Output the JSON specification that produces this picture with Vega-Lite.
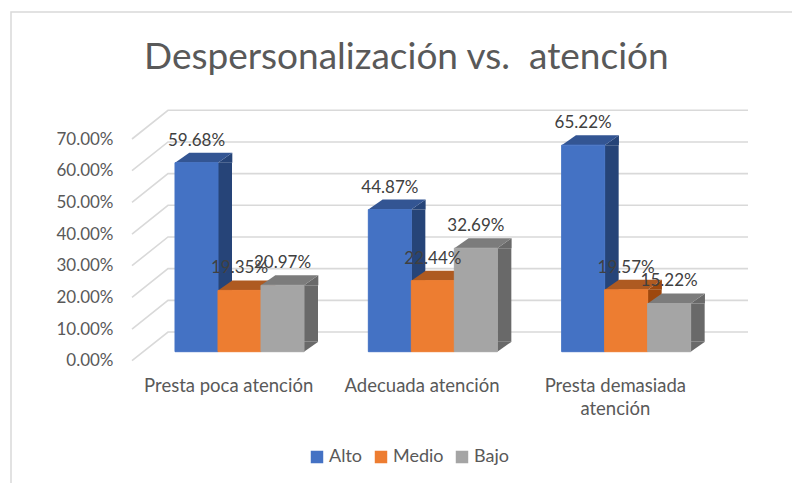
{
  "$schema": "https://vega.github.io/schema/vega-lite/v6.json",
  "autosize": "none",
  "padding": {"left": 11, "top": 12, "right": 0, "bottom": 0},
  "width": 782,
  "height": 472,
  "background": "white",
  "title": {"text": "Despersonalización vs.\u00a0 atención", "font": "Lato", "fontSize": 37, "fontWeight": "normal", "color": "#595959", "anchor": "start", "frame": "group", "offset": -65, "dx": 133},
  "config": {"view": {"stroke": "#d9d9d9", "strokeWidth": 1.5}},
  "datasets": {
    "bars": [
      {"categoria": "Presta poca atención", "nivel": "Alto", "valor": 0.5968},
      {"categoria": "Presta poca atención", "nivel": "Medio", "valor": 0.1935},
      {"categoria": "Presta poca atención", "nivel": "Bajo", "valor": 0.2097},
      {"categoria": "Adecuada atención", "nivel": "Alto", "valor": 0.4487},
      {"categoria": "Adecuada atención", "nivel": "Medio", "valor": 0.2244},
      {"categoria": "Adecuada atención", "nivel": "Bajo", "valor": 0.3269},
      {"categoria": "Presta demasiada atención", "nivel": "Alto", "valor": 0.6522},
      {"categoria": "Presta demasiada atención", "nivel": "Medio", "valor": 0.1957},
      {"categoria": "Presta demasiada atención", "nivel": "Bajo", "valor": 0.1522}
    ],
    "ticks": [{"t": 0}, {"t": 0.1}, {"t": 0.2}, {"t": 0.3}, {"t": 0.4}, {"t": 0.5}, {"t": 0.6}, {"t": 0.7}]
  },
  "data": {"name": "bars"},
  "layer": [
    {
      "data": {"name": "ticks"},
      "mark": {"type": "point", "shape": "M0,0 L36,-28.7 L616,-28.7", "size": 4, "filled": false, "fill": null, "stroke": "#d9d9d9", "strokeWidth": 1.6, "opacity": 1},
      "encoding": {
        "x": {"datum": "Presta poca atención", "bandPosition": 0, "type": "nominal", "scale": {"domain": ["Presta poca atención", "Adecuada atención", "Presta demasiada atención"], "range": [121, 701], "paddingInner": 0, "paddingOuter": 0}, "axis": {"title": null, "labelAngle": 0, "domain": false, "ticks": false, "grid": false, "offset": -123, "labelPadding": 15, "labelFont": "Lato", "labelFontSize": 18.5, "labelColor": "#595959", "labelLimit": 220, "labelLineHeight": 23, "labelExpr": "datum.label == 'Presta demasiada atención' ? ['Presta demasiada', 'atención'] : datum.label"}},
        "y": {"field": "t", "type": "quantitative", "scale": {"domain": [0, 0.7], "range": [348.7, 127]}, "axis": {"title": null, "values": [0, 0.1, 0.2, 0.3, 0.4, 0.5, 0.6, 0.7], "format": ".2%", "domain": false, "ticks": false, "grid": false, "offset": -121, "labelPadding": 19, "labelFont": "Lato", "labelFontSize": 17, "labelColor": "#595959"}}
      }
    },
    {
      "mark": {"type": "bar", "width": 14, "yOffset": -9, "y2Offset": -19},
      "encoding": {
        "x": {"field": "categoria", "type": "nominal", "sort": null},
        "xOffset": {"field": "nivel", "sort": ["Alto", "Medio", "Bajo"], "scale": {"domain": ["Alto", "Medio", "Bajo"], "range": [71.5, 200.5], "paddingInner": 0, "paddingOuter": 0}},
        "y": {"field": "valor", "type": "quantitative"},
        "y2": {"datum": 0},
        "color": {"field": "nivel", "type": "nominal", "scale": {"domain": ["Alto", "Medio", "Bajo"], "range": ["#264478", "#9E480E", "#696969"]}, "legend": null}
      }
    },
    {
      "mark": {"type": "point", "shape": "M21.5,0 L35.8,-10 L35.8,0 Z", "size": 4, "filled": true, "opacity": 1, "yOffset": -9},
      "encoding": {
        "x": {"field": "categoria", "type": "nominal", "sort": null},
        "xOffset": {"field": "nivel", "sort": ["Alto", "Medio", "Bajo"], "scale": {"domain": ["Alto", "Medio", "Bajo"], "range": [64.5, 150.5], "padding": 0}},
        "y": {"field": "valor", "type": "quantitative"},
        "color": {"field": "nivel", "type": "nominal", "scale": {"domain": ["Alto", "Medio", "Bajo"], "range": ["#264478", "#9E480E", "#696969"]}, "legend": null}
      }
    },
    {
      "mark": {"type": "point", "shape": "M21.5,0 L21.5,-10 L35.8,-10 Z", "size": 4, "filled": true, "opacity": 1, "yOffset": -9},
      "encoding": {
        "x": {"field": "categoria", "type": "nominal", "sort": null},
        "xOffset": {"field": "nivel", "sort": ["Alto", "Medio", "Bajo"], "scale": {"domain": ["Alto", "Medio", "Bajo"], "range": [64.5, 150.5], "padding": 0}},
        "y": {"datum": 0},
        "color": {"field": "nivel", "type": "nominal", "scale": {"domain": ["Alto", "Medio", "Bajo"], "range": ["#264478", "#9E480E", "#696969"]}, "legend": null}
      }
    },
    {
      "mark": {"type": "point", "shape": "M21.5,0 L35.8,-10 L-7.2,-10 L-21.5,0 Z", "size": 4, "filled": true, "opacity": 1, "yOffset": -9},
      "encoding": {
        "x": {"field": "categoria", "type": "nominal", "sort": null},
        "xOffset": {"field": "nivel", "sort": ["Alto", "Medio", "Bajo"], "scale": {"domain": ["Alto", "Medio", "Bajo"], "range": [64.5, 150.5], "padding": 0}},
        "y": {"field": "valor", "type": "quantitative"},
        "fill": {"field": "nivel", "type": "nominal", "scale": {"domain": ["Alto", "Medio", "Bajo"], "range": ["#335593", "#AE5A21", "#7C7C7C"]}, "legend": null}
      }
    },
    {
      "mark": {"type": "bar", "yOffset": -9, "y2Offset": -9},
      "encoding": {
        "x": {"field": "categoria", "type": "nominal", "sort": null},
        "xOffset": {"field": "nivel", "sort": ["Alto", "Medio", "Bajo"], "scale": {"domain": ["Alto", "Medio", "Bajo"], "range": [43, 172], "paddingInner": 0, "paddingOuter": 0}},
        "y": {"field": "valor", "type": "quantitative"},
        "y2": {"datum": 0},
        "stroke": {"field": "nivel", "type": "nominal", "scale": {"domain": ["Alto", "Medio", "Bajo"], "range": ["#4472C4", "#ED7D31", "#A5A5A5"]}, "legend": {"title": null, "orient": "none", "direction": "horizontal", "legendX": 297, "legendY": 436, "columns": 3, "symbolType": "square", "symbolSize": 120, "symbolFillColor": null, "labelFont": "Lato", "labelFontSize": 18, "labelColor": "#595959", "columnPadding": 9, "labelOffset": 3}},
        "fill": {"field": "nivel", "type": "nominal", "scale": {"domain": ["Alto", "Medio", "Bajo"], "range": ["#4472C4", "#ED7D31", "#A5A5A5"]}}
      }
    },
    {
      "mark": {"type": "text", "font": "Lato", "fontSize": 17, "color": "#404040", "yOffset": -31, "baseline": "middle"},
      "encoding": {
        "x": {"field": "categoria", "type": "nominal", "sort": null},
        "xOffset": {"field": "nivel", "sort": ["Alto", "Medio", "Bajo"], "scale": {"domain": ["Alto", "Medio", "Bajo"], "range": [64.5, 150.5], "padding": 0}},
        "y": {"field": "valor", "type": "quantitative"},
        "text": {"field": "valor", "type": "quantitative", "format": ".2%"}
      }
    }
  ],
  "resolve": {"scale": {"color": "independent", "fill": "independent", "stroke": "independent", "xOffset": "independent"}}
}
